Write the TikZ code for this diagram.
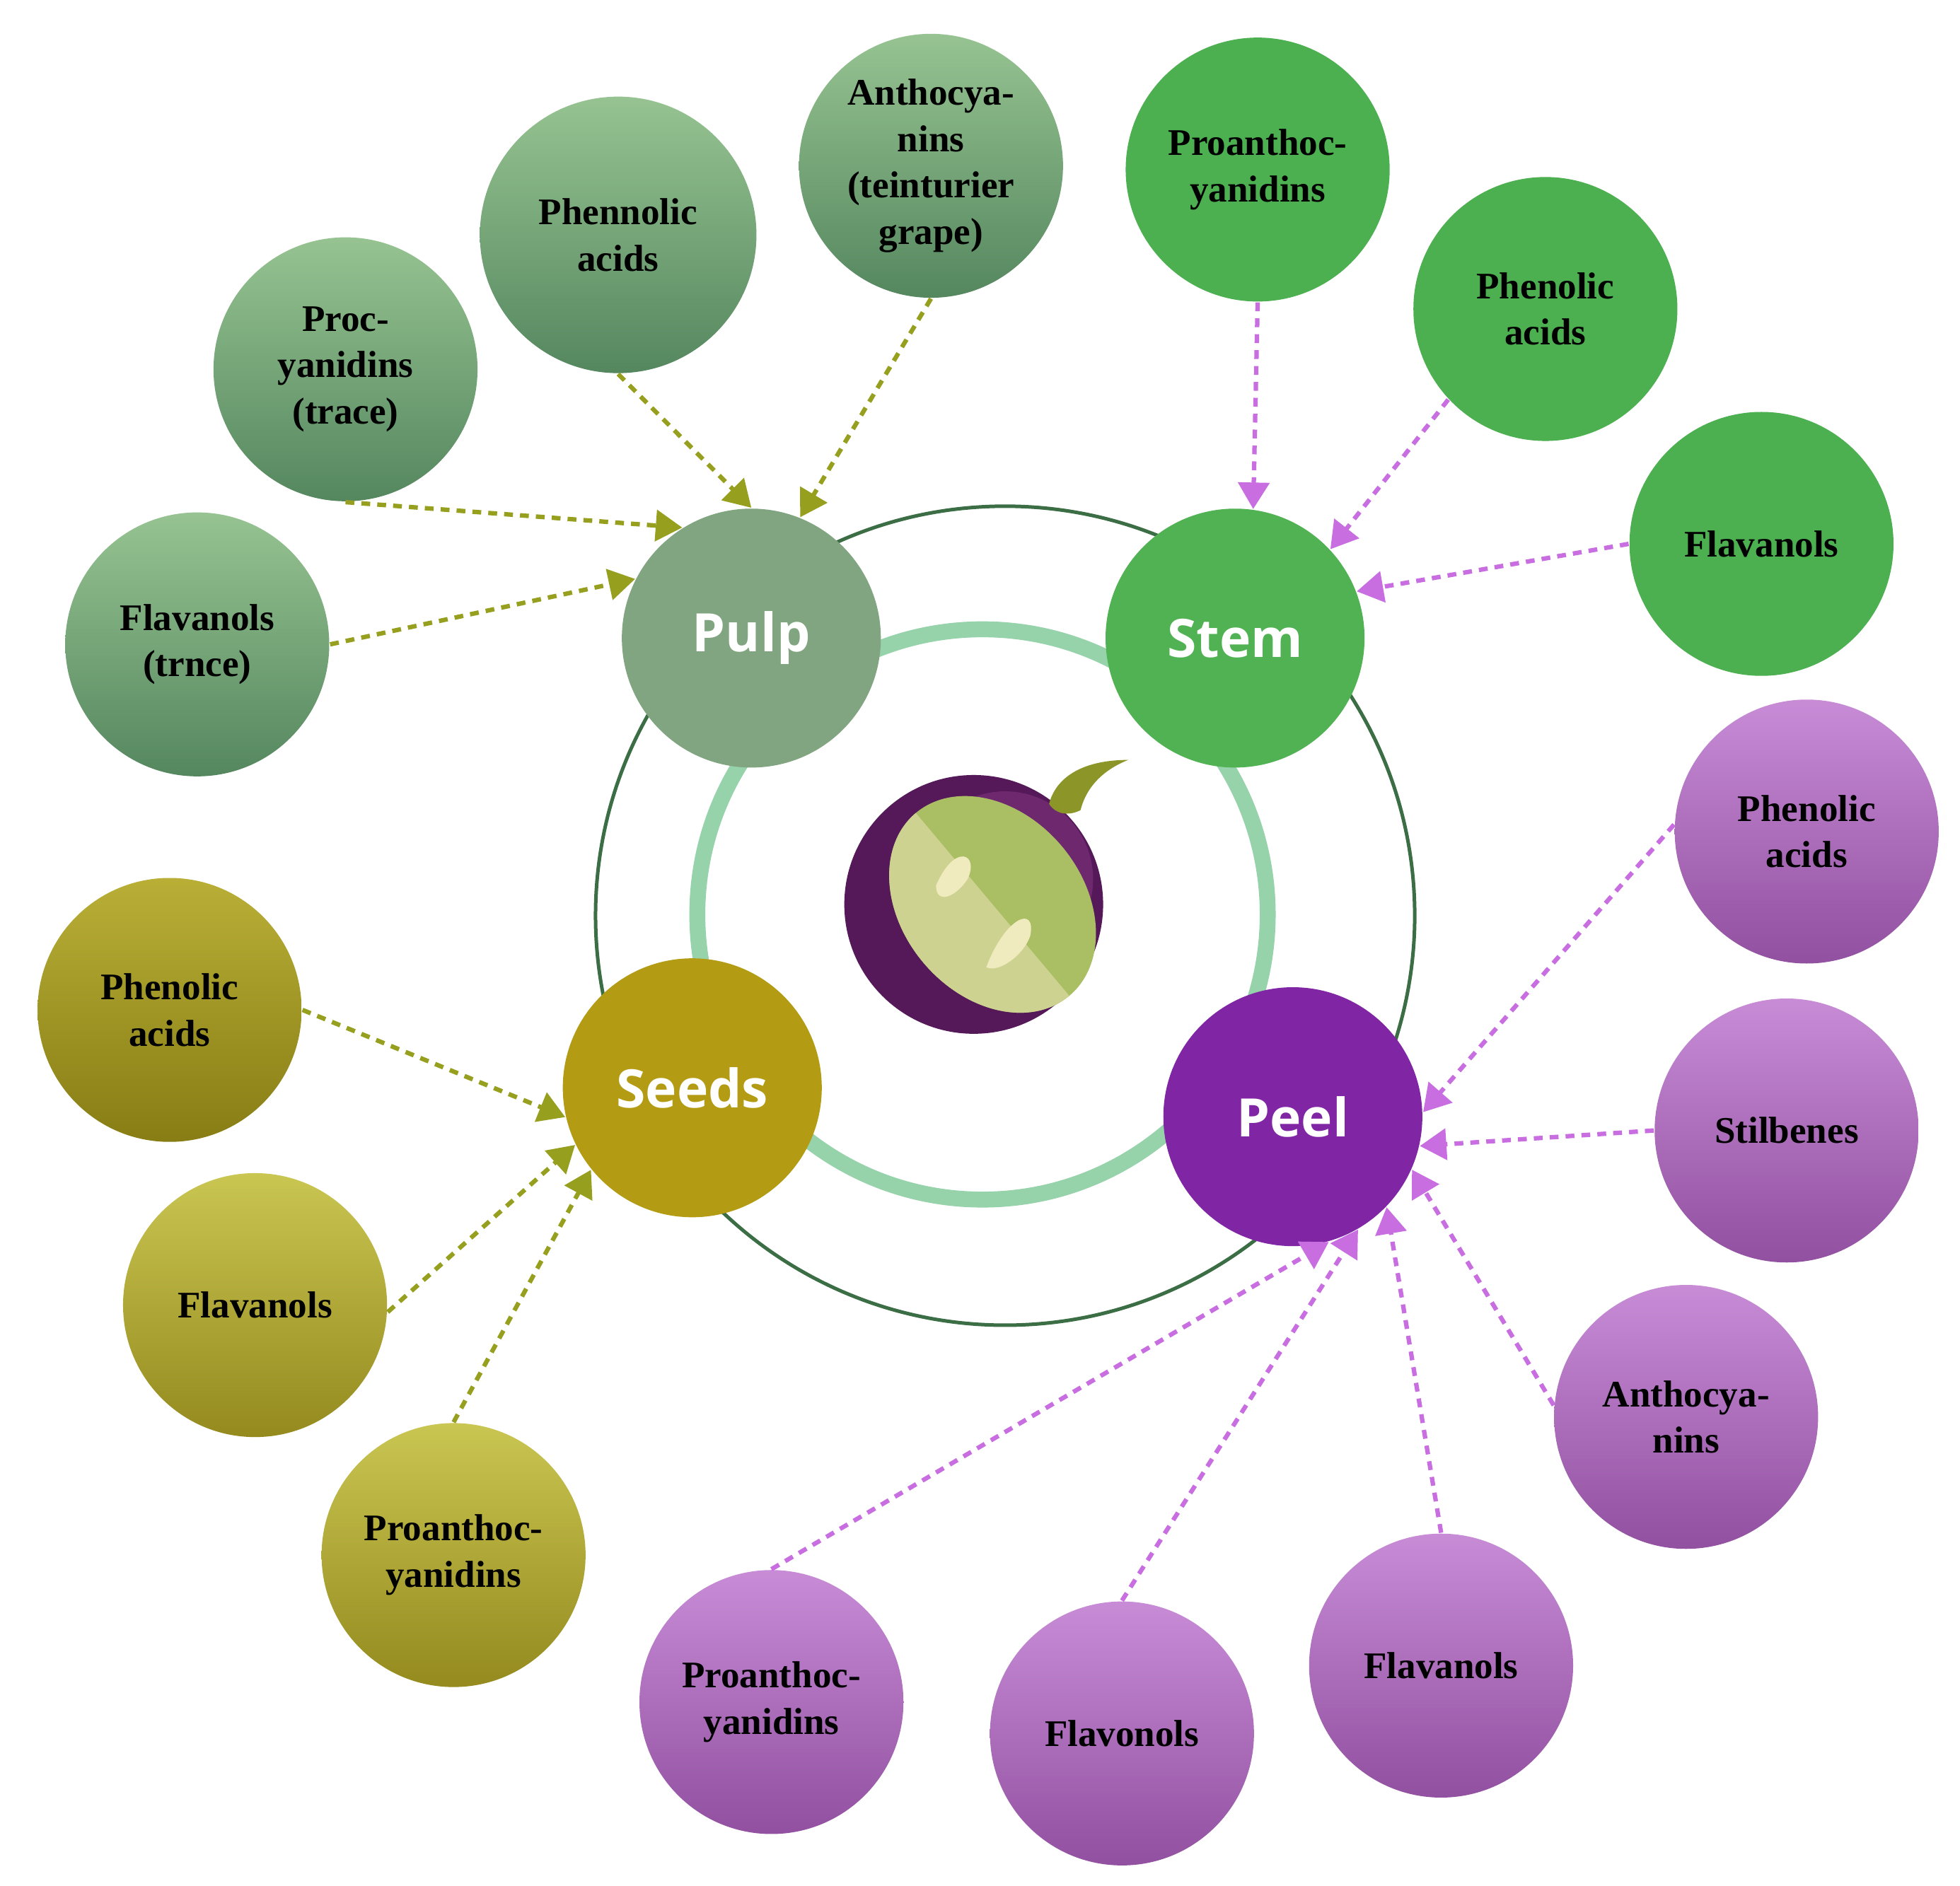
\documentclass[tikz,border=0pt]{standalone}
\usepackage{fontspec}
\setmainfont{Liberation Serif}
\newfontfamily\cfont{Open Sans}
\usetikzlibrary{arrows.meta}
\definecolor{olv}{RGB}{150,160,30}
\definecolor{vio}{RGB}{200,110,225}
\tikzset{
 outer/.style={circle,minimum size=2.1cm,inner sep=0,align=center,font=\bfseries\fontsize{8.5}{10.5}\selectfont,text=black},
 gp/.style={outer,top color={rgb,255:red,150;green,195;blue,145},bottom color={rgb,255:red,85;green,135;blue,95}},
 gs/.style={outer,fill={rgb,255:red,76;green,176;blue,80}},
 pp/.style={outer,top color={rgb,255:red,200;green,140;blue,215},bottom color={rgb,255:red,145;green,80;blue,160}},
 sd/.style={outer,top color={rgb,255:red,202;green,198;blue,82},bottom color={rgb,255:red,148;green,138;blue,30}},
 sd2/.style={outer,top color={rgb,255:red,185;green,175;blue,55},bottom color={rgb,255:red,135;green,125;blue,20}},
 hub/.style={circle,minimum size=2.06cm,inner sep=0,font=\cfont\bfseries\fontsize{12}{14}\selectfont,text=white},
 ao/.style={olv,dash pattern=on 2pt off 1.6pt,line width=1pt,-{Triangle[length=6pt,width=7pt]}},
 av/.style={vio,dash pattern=on 2pt off 1.6pt,line width=1pt,-{Triangle[length=6pt,width=7pt]}},
}
\begin{document}
\begin{tikzpicture}[x=0.01cm,y=-0.01cm]
\useasboundingbox[fill=white] (0,0) rectangle (1560,1501);
\draw[line width=0.8pt,color={rgb,255:red,60;green,110;blue,70}] (800,729) circle (326);
\draw[line width=3.6pt,color={rgb,255:red,150;green,210;blue,170}] (782,728) circle (227);
% grape
\fill[color={rgb,255:red,85;green,25;blue,90}] (775,720) circle (103);
\fill[color={rgb,255:red,110;green,40;blue,110}] (800,700) circle (70);
\begin{scope}[rotate around={-50:(790,720)}]
\fill[color={rgb,255:red,170;green,190;blue,100}] (790,720) ellipse (95 and 72);
\clip (790,720) ellipse (95 and 72);
\fill[color={rgb,255:red,205;green,210;blue,145}] (690,720) rectangle (900,820);
\end{scope}
\fill[color={rgb,255:red,240;green,235;blue,190}] (745,705) .. controls (760,670) and (780,680) .. (770,700) .. controls (760,715) and (745,720) .. (745,705);
\fill[color={rgb,255:red,240;green,235;blue,190}] (785,770) .. controls (800,730) and (825,720) .. (820,745) .. controls (815,760) and (795,775) .. (785,770);
\fill[color={rgb,255:red,140;green,150;blue,40}] (835,640) .. controls (840,620) and (860,605) .. (898,605) .. controls (880,612) and (865,625) .. (860,645) .. controls (850,650) and (840,648) .. (835,640);
% hubs
\node[hub,fill={rgb,255:red,128;green,165;blue,128}] (pulp) at (598,508) {Pulp};
\node[hub,fill={rgb,255:red,80;green,178;blue,82}] (stem) at (983,508) {Stem};
\node[hub,fill={rgb,255:red,180;green,155;blue,20}] (seeds) at (551,866) {Seeds};
\node[hub,fill={rgb,255:red,128;green,38;blue,165}] (peel) at (1029,889) {Peel};
% pulp group
\node[gp] (p1) at (157,513) {Flavanols\\(trnce)};
\node[gp] (p2) at (275,294) {Proc-\\yanidins\\(trace)};
\node[gp,minimum size=2.2cm] (p3) at (492,187) {Phennolic\\acids};
\node[gp] (p4) at (741,132) {Anthocya-\\nins\\(teinturier\\grape)};
% stem group
\node[gs] (s1) at (1001,135) {Proanthoc-\\yanidins};
\node[gs] (s2) at (1230,246) {Phenolic\\acids};
\node[gs] (s3) at (1402,433) {Flavanols};
% peel group
\node[pp] (e1) at (1438,662) {Phenolic\\acids};
\node[pp] (e2) at (1422,900) {Stilbenes};
\node[pp] (e3) at (1342,1128) {Anthocya-\\nins};
\node[pp] (e4) at (1147,1326) {Flavanols};
\node[pp] (e5) at (893,1380) {Flavonols};
\node[pp] (e6) at (614,1355) {Proanthoc-\\yanidins};
% seeds group
\node[sd2] (d1) at (135,804) {Phenolic\\acids};
\node[sd] (d2) at (203,1039) {Flavanols};
\node[sd] (d3) at (361,1238) {Proanthoc-\\yanidins};
% arrows
\draw[ao] (p1.0) -- (pulp.153);
\draw[ao] (p2.270) -- (pulp.122);
\draw[ao] (p3.270) -- (pulp.90);
\draw[ao] (p4.270) -- (pulp.68);
\draw[av] (s1.270) -- (stem.82);
\draw[av] (s2.223) -- (stem.43);
\draw[av] (s3.180) -- (stem.21);
\draw[av] (e1.177) -- (peel.2);
\draw[av] (e2.180) -- (peel.-13);
\draw[av] (e3.175) -- (peel.-24);
\draw[av] (e4.90) -- (peel.-44);
\draw[av] (e5.90) -- (peel.-60);
\draw[av] (e6.90) -- (peel.-74);
\draw[ao] (d1.0) -- (seeds.193);
\draw[ao] (d2.-3) -- (seeds.206);
\draw[ao] (d3.90) -- (seeds.219);
\end{tikzpicture}
\end{document}
